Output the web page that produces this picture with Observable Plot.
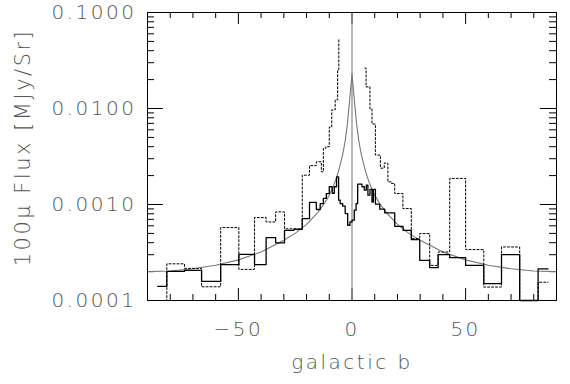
<!DOCTYPE html>
<html><head><meta charset="utf-8">
<script src="https://cdn.jsdelivr.net/npm/d3@7"></script>
<script src="https://cdn.jsdelivr.net/npm/@observablehq/plot@0.6"></script>
<style>
html,body{margin:0;padding:0;background:#fff;}
#chart svg{font-family:'DejaVu Sans',sans-serif;font-size:20px;font-weight:300;background:#fff;}
#chart svg text{letter-spacing:2.5px;}
</style></head><body><div id="chart"></div>
<script>
// Solid histogram: bin edges (galactic b, degrees) and flux per bin (MJy/Sr); 0.0001 = at/below the axis floor
const solidEdges = [-85.5,-81.5,-73.7,-66.2,-57.8,-49.8,-42.9,-37.8,-33.6,-29.7,-25.6,-21.9,-18.7,-15.7,-14.0,-12.6,-11.3,-10.0,-8.7,-7.8,-6.8,-5.9,-5.2,-4.1,-3.0,-1.9,-0.9,0,1.0,1.8,2.5,4.4,5.4,6.3,7.0,7.9,8.8,9.4,10.3,12.2,14.4,18.8,22.5,26.1,29.8,34.2,37.9,43.0,50.0,58.0,65.8,73.8,81.9,86.3];
const solidFlux = [1.40e-4,2.01e-4,2.06e-4,1.58e-4,2.36e-4,3.03e-4,2.36e-4,4.52e-4,3.99e-4,5.38e-4,5.51e-4,7.14e-4,1.05e-3,8.87e-4,1.02e-3,1.16e-3,1.30e-3,1.53e-3,1.31e-3,1.53e-3,1.94e-3,1.11e-3,1.02e-3,9.6e-4,8.05e-4,6.08e-4,6.58e-4,6.86e-4,8.72e-4,1.02e-3,1.63e-3,1.53e-3,1.41e-3,1.59e-3,1.25e-3,1.44e-3,1.06e-3,1.44e-3,1.01e-3,8.93e-4,8.17e-4,5.93e-4,5.38e-4,4.31e-4,2.62e-4,2.20e-4,3.01e-4,2.79e-4,2.32e-4,1.50e-4,3.01e-4,1e-4,2.14e-4];

// Dotted histogram (null = no data)
const dottedEdges = [-85.5,-81.5,-73.7,-66.2,-57.8,-49.8,-42.9,-37.8,-33.6,-29.7,-21.9,-18.7,-15.7,-13.5,-12.6,-11.5,-10.0,-8.9,-7.4,-6.3,-5.8,-5.5,5.7,6.2,7.9,8.8,10.3,12.5,14.2,15.8,17.3,18.8,22.4,26.1,29.8,34.2,37.9,43.0,50.0,58.0,65.8,73.8,81.9,86.3];
const dottedFlux = [1e-4,2.41e-4,2.16e-4,1.39e-4,5.75e-4,2.11e-4,7.31e-4,6.58e-4,8.37e-4,5.58e-4,2.02e-3,2.54e-3,2.79e-3,2.19e-3,3.85e-3,4.0e-3,6.4e-3,9.67e-3,1.23e-2,2.53e-2,5.21e-2,null,2.64e-2,1.68e-2,9.9e-3,6.9e-3,3.27e-3,2.39e-3,2.70e-3,1.72e-3,1.66e-3,1.30e-3,9.08e-4,4.41e-4,4.98e-4,2.32e-4,3.20e-4,1.87e-3,3.39e-4,1.38e-4,3.61e-4,1e-4,1.55e-4];

// Smooth model curve
const curveB = [-90,-80,-70,-60,-50,-40,-30,-25,-20,-15,-12,-10,-8,-7,-6,-5,-4,-3,-2,-1,0,1,2,3,4,5,6,7,8,10,12,15,20,25,30,40,50,60,70,80,90];
const curveFlux = [2.0e-4,2.03e-4,2.14e-4,2.33e-4,2.65e-4,3.2e-4,4.25e-4,5.0e-4,6.2e-4,8.3e-4,1.04e-3,1.25e-3,1.6e-3,1.85e-3,2.2e-3,2.7e-3,3.4e-3,4.6e-3,7.0e-3,1.25e-2,2.3e-2,1.25e-2,7.0e-3,4.6e-3,3.4e-3,2.7e-3,2.2e-3,1.85e-3,1.6e-3,1.25e-3,1.04e-3,8.3e-4,6.2e-4,5.0e-4,4.25e-4,3.2e-4,2.65e-4,2.33e-4,2.14e-4,2.03e-4,2.0e-4];

// Axes
const xDomain = [-90, 90];
const yDomain = [0.0001, 0.1];
const xMajorTicks = [-50, 0, 50];
const xMinorTicks = [-80,-70,-60,-40,-30,-20,-10,10,20,30,40,60,70,80];
const yMajorTicks = [0.0001, 0.001, 0.01, 0.1];
const yMinorTicks = [2e-4,3e-4,4e-4,5e-4,6e-4,7e-4,8e-4,9e-4,2e-3,3e-3,4e-3,5e-3,6e-3,7e-3,8e-3,9e-3,2e-2,3e-2,4e-2,5e-2,6e-2,7e-2,8e-2,9e-2];
const xTitle = "galactic b";
const yTitle = "100μ Flux [MJy/Sr]";

function steps(edges, flux) {
  const pts = [];
  flux.forEach((f, i) => {
    pts.push({b: edges[i], f});
    pts.push({b: edges[i + 1], f});
  });
  return pts;
}
const curve = curveB.map((b, i) => ({b, f: curveFlux[i]}));

const W = 570, H = 384, mL = 147, mR = 14, mT = 12, mB = 84;
const fw = W - mL - mR, fh = H - mT - mB;
const xMaj = 12, xMin = 6, yMaj = 16, yMin = 7;
const textFill = "#555";
const id = (d) => d;

const chart = Plot.plot({
  width: W, height: H,
  marginLeft: mL, marginRight: mR, marginTop: mT, marginBottom: mB,
  x: {domain: xDomain},
  y: {type: "log", domain: yDomain},
  marks: [
    // inward ticks on all four sides
    Plot.tickX(xMajorTicks, {x: id, insetTop: fh - xMaj, stroke: "#000"}),
    Plot.tickX(xMinorTicks, {x: id, insetTop: fh - xMin, stroke: "#000"}),
    Plot.tickX(xMajorTicks, {x: id, insetBottom: fh - xMaj, stroke: "#000"}),
    Plot.tickX(xMinorTicks, {x: id, insetBottom: fh - xMin, stroke: "#000"}),
    Plot.tickY(yMajorTicks, {y: id, insetRight: fw - yMaj, stroke: "#000"}),
    Plot.tickY(yMinorTicks, {y: id, insetRight: fw - yMin, stroke: "#000"}),
    Plot.tickY(yMajorTicks, {y: id, insetLeft: fw - yMaj, stroke: "#000"}),
    Plot.tickY(yMinorTicks, {y: id, insetLeft: fw - yMin, stroke: "#000"}),
    Plot.ruleX([0], {stroke: "#888", strokeWidth: 1.2}),
    Plot.line(curve, {x: "b", y: "f", stroke: "#777", strokeWidth: 1.1}),
    Plot.line(steps(dottedEdges, dottedFlux), {x: "b", y: "f", stroke: "#000", strokeWidth: 1, strokeDasharray: "2,2"}),
    Plot.line(steps(solidEdges, solidFlux), {x: "b", y: "f", stroke: "#000", strokeWidth: 1.3}),
    Plot.frame({stroke: "#000"}),
    // tick labels and titles
    Plot.axisX({anchor: "bottom", ticks: xMajorTicks, tickSize: 0, tickPadding: 21, tickFormat: d3.format("d"), fill: textFill,
      label: xTitle, labelAnchor: "center", labelOffset: 68, labelArrow: "none"}),
    Plot.axisY({anchor: "left", ticks: yMajorTicks, tickSize: 0, tickPadding: 11, tickFormat: d3.format(".4f"), fill: textFill,
      label: null}),
    Plot.text([yTitle], {text: id, frameAnchor: "left", rotate: -90, dx: -124, dy: -9, fill: textFill,
      fontSize: 21, textAnchor: "middle", lineAnchor: "middle"})
  ]
});
document.getElementById("chart").appendChild(chart);
</script>
</body></html>
